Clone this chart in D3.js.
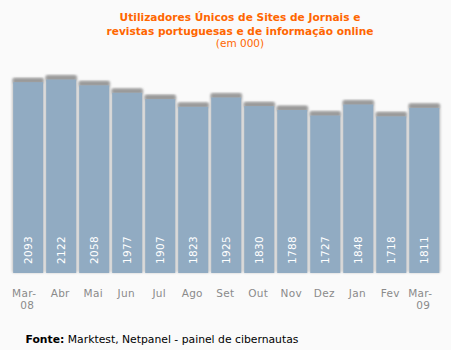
<!DOCTYPE html>
<html><head><meta charset="utf-8">
<script src="https://cdn.jsdelivr.net/npm/d3@7"></script>
<style>
html,body{margin:0;padding:0;background:#fafafa;}
svg{display:block;}
</style></head>
<body>
<svg id="c" width="451" height="350"></svg>
<script>
const months = ["Mar-08","Abr","Mai","Jun","Jul","Ago","Set","Out","Nov","Dez","Jan","Fev","Mar-09"];
const values = [2093,2122,2058,1977,1907,1823,1925,1830,1788,1727,1848,1718,1811];
const titleLines = ["Utilizadores Únicos de Sites de Jornais e","revistas portuguesas e de informação online"];
const subtitle = "(em 000)";
const sourceLabel = "Fonte:";
const sourceText = " Marktest, Netpanel - painel de cibernautas";

const svg = d3.select("#c");
svg.append("rect").attr("width",451).attr("height",350).attr("fill","#fafafa");

const x = d3.scaleBand().domain(months).range([12.5, 440]).paddingInner(0.09).paddingOuter(0.02);
const y = d3.scaleLinear().domain([0, 2200]).range([273, 72.4]);

const defs = svg.append("defs");
const f = defs.append("filter").attr("id","glow").attr("x","-20%").attr("y","-20%").attr("width","140%").attr("height","140%");
f.append("feGaussianBlur").attr("stdDeviation",0.8);

// title
const t = svg.append("text").attr("text-anchor","middle").attr("fill","#ff6600")
  .attr("font-family","DejaVu Sans, Verdana, sans-serif").attr("font-size",10.6).attr("font-weight","bold");
titleLines.forEach((l,i)=>t.append("tspan").attr("x",240).attr("y",20.5+i*14.5).text(l));
svg.append("text").attr("x",240).attr("y",46.5).attr("text-anchor","middle").attr("fill","#ff6600")
  .attr("font-family","DejaVu Sans, Verdana, sans-serif").attr("font-size",10.5).text(subtitle);

const g = svg.append("g");
const bars = g.selectAll("g.bar").data(months.map((m,i)=>({m,v:values[i]}))).join("g").attr("class","bar");
// soft outline
bars.append("rect").attr("x",d=>x(d.m)-1.2).attr("y",d=>y(d.v)-4.5).attr("width",x.bandwidth()+2.4)
  .attr("height",d=>273-y(d.v)+4.5).attr("rx",2).attr("fill","#c8c8c8").attr("filter","url(#glow)");
// dark cap
bars.append("rect").attr("x",d=>x(d.m)).attr("y",d=>y(d.v)-4).attr("width",x.bandwidth())
  .attr("height",5).attr("rx",1.5).attr("fill","#9a9a9a").attr("filter","url(#glow)");
// bar
bars.append("rect").attr("x",d=>x(d.m)).attr("y",d=>y(d.v)).attr("width",x.bandwidth())
  .attr("height",d=>273-y(d.v)).attr("fill","#91abc2");
// value labels
bars.append("text").attr("transform",d=>`translate(${x(d.m)+x.bandwidth()/2+3.8},264) rotate(-90)`)
  .attr("fill","#ffffff").attr("font-family","DejaVu Sans, Verdana, sans-serif").attr("font-size",10.5)
  .attr("letter-spacing",0.3)
  .text(d=>d.v);

// x axis
const ax = svg.append("g").attr("transform","translate(0,273)")
  .call(d3.axisBottom(x).tickSize(0).tickPadding(0).tickFormat(""));
ax.select(".domain").remove();
ax.selectAll(".tick").each(function(d){
  const parts = d.includes("-") ? [d.split("-")[0]+"-", d.split("-")[1]] : [d];
  const tx = d3.select(this).append("text").attr("fill","#8a8a8a").attr("text-anchor","middle")
    .attr("font-family","DejaVu Sans, Verdana, sans-serif").attr("font-size",10.5).attr("letter-spacing",0.3);
  parts.forEach((p,i)=>tx.append("tspan").attr("x", i===0 && parts.length>1 ? -4 : -1).attr("y",24+i*12).text(p));
});

// source
const s = svg.append("text").attr("x",25.5).attr("y",343).attr("fill","#000")
  .attr("font-family","DejaVu Sans, Verdana, sans-serif").attr("font-size",10.8);
s.append("tspan").attr("font-weight","bold").text(sourceLabel);
s.append("tspan").text(sourceText);
</script>
</body></html>
